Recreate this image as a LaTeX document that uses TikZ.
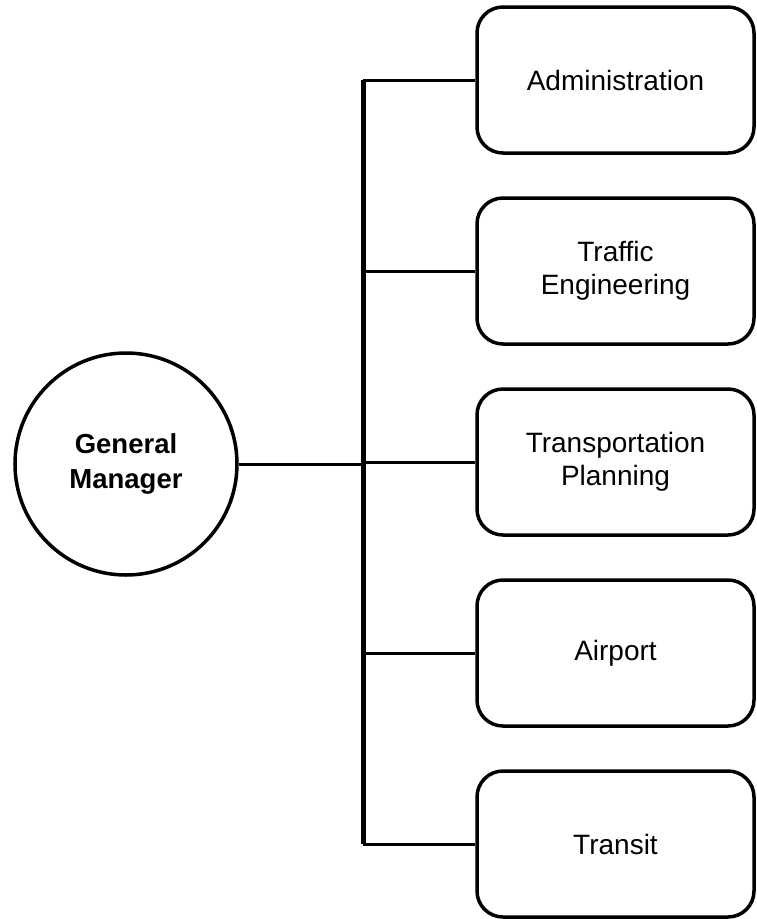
\documentclass[tikz,border=0pt]{standalone}
\usepackage{fontspec}
\setmainfont{Liberation Sans}

\begin{document}
\begin{tikzpicture}[x=1pt, y=-1pt, node distance = {191pt},
    box/.style = {draw, line width=3.5pt, rounded corners=26pt, align=center,
        minimum width=277pt, minimum height=146pt,
        font=\fontsize{28}{33}\selectfont},
    main/.style = {draw, circle, line width=3.5pt, minimum size=222pt, inner sep=0pt,
        align=center, font=\fontsize{27.5}{35}\selectfont\bfseries},
    link/.style = {line width=3pt},
    trunkline/.style = {line width=5pt}]
    \useasboundingbox (0,0) rectangle (756,919);
    \node[box] (admin) at (615.5,80) {Administration};
    \node[box] (traffic) [below of=admin] {Traffic\\Engineering};
    \node[box] (plan) [below of=traffic] {Transportation\\Planning};
    \node[box] (airport) [below of=plan] {Airport};
    \node[box] (transit) [below of=airport] {Transit};
    \node[main] (gm) at (126,464) {General\\Manager};
    \coordinate (trunk) at (363,464);
    \draw[trunkline] (admin.west -| trunk) -- (transit.west -| trunk);
    \draw[link] (gm.east) -- (gm.east -| trunk);
    \foreach \b in {admin, traffic, plan, airport, transit}
        \draw[link] (\b.west -| trunk) -- (\b.west);
\end{tikzpicture}
\end{document}
